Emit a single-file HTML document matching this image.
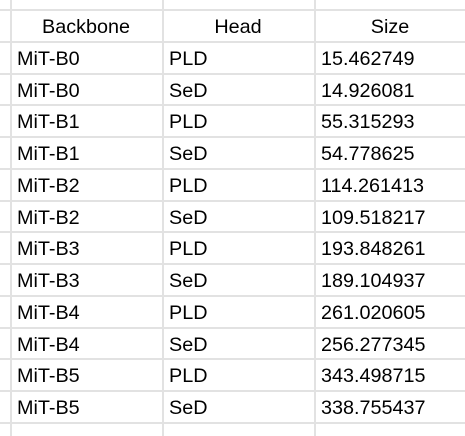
<!DOCTYPE html>
<html><head><meta charset="utf-8"><style>
body{margin:0;width:465px;height:436px;overflow:hidden;background:#fff;font-family:"Liberation Sans",Arial,sans-serif;font-size:19.8px;color:#000;position:relative}
.h{position:absolute;left:0;width:465px;height:2px;background:#e2e2e2}
.v{position:absolute;top:0;height:436px;width:2px;background:#e2e2e2}
.c{position:absolute;height:32px;line-height:32px;white-space:nowrap}
</style></head><body>
<script>
const backbones=["MiT-B0","MiT-B0","MiT-B1","MiT-B1","MiT-B2","MiT-B2","MiT-B3","MiT-B3","MiT-B4","MiT-B4","MiT-B5","MiT-B5"];
const heads=["PLD","SeD","PLD","SeD","PLD","SeD","PLD","SeD","PLD","SeD","PLD","SeD"];
const sizes=["15.462749","14.926081","55.315293","54.778625","114.261413","109.518217","193.848261","189.104937","261.020605","256.277345","343.498715","338.755437"];
const top0=9,rh=31.75,cols=[10,162,314,466];
const b=document.body;
for(let k=0;k<=13;k++){const d=document.createElement('div');d.className='h';d.style.top=(top0+k*rh)+'px';

b.appendChild(d);}
cols.forEach(x=>{const d=document.createElement('div');d.className='v';d.style.left=x+'px';

b.appendChild(d);});
function cell(r,c,t,center,name){const d=document.createElement('div');d.className='c';d.textContent=t;
d.style.top=(top0+r*rh+2)+'px';
if(center){d.style.left=cols[c]+'px';d.style.width=(cols[c+1]-cols[c])+'px';d.style.textAlign='center';}
else d.style.left=(cols[c]+7)+'px';


b.appendChild(d);}
["Backbone","Head","Size"].forEach((t,i)=>cell(0,i,t,true,'header-'+t.toLowerCase()));
for(let i=0;i<sizes.length;i++){cell(i+1,0,backbones[i],false,'backbone-cell');cell(i+1,1,heads[i],false,'head-cell');cell(i+1,2,sizes[i],false,'size-cell');}
</script>
</body></html>
